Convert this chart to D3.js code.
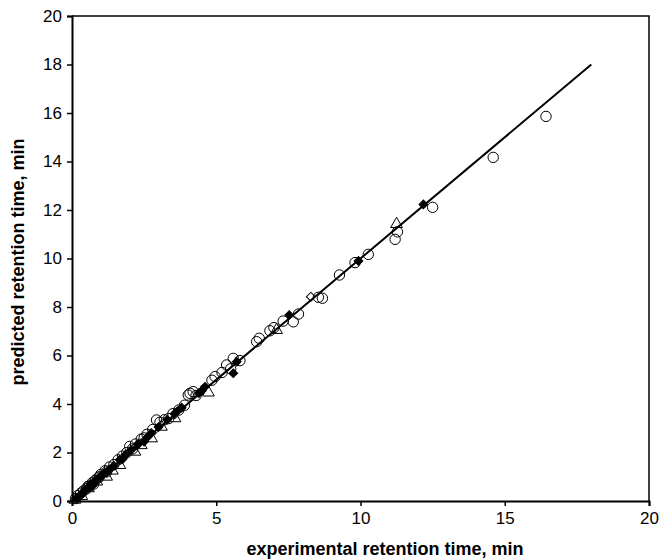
<!DOCTYPE html>
<html><head><meta charset="utf-8">
<script src="https://cdn.jsdelivr.net/npm/d3@7"></script>
<style>body{margin:0;background:#fff;} svg{display:block;}</style>
</head><body>
<svg id="c" width="659" height="560"></svg>
<script>
const xTicks = [0, 5, 10, 15, 20];
const yTicks = [0, 2, 4, 6, 8, 10, 12, 14, 16, 18, 20];
const fitLine = [[0, 0], [18, 18]];
const circles = [[16.43,15.86],[14.6,14.17],[12.5,12.11],[11.28,11.1],[11.2,10.79],[10.27,10.17],[9.81,9.83],[9.27,9.32],[8.54,8.4],[8.68,8.36],[7.85,7.71],[7.67,7.39],[7.32,7.42],[6.86,7.02],[7.0,7.15],[6.49,6.71],[6.4,6.57],[5.59,5.88],[5.82,5.79],[5.36,5.61],[5.5,5.45],[5.2,5.3],[4.96,5.13],[4.85,4.98],[4.2,4.51],[4.09,4.44],[4.03,4.37],[4.3,4.35],[3.9,3.95],[3.7,3.75],[3.5,3.6],[3.2,3.35],[2.93,3.34],[3.05,3.25],[2.8,2.95],[2.6,2.75],[2.4,2.55],[2.2,2.35],[2.0,2.25],[2.1,2.15],[1.9,2.0],[1.75,1.85],[1.6,1.7],[1.45,1.5],[1.3,1.4],[1.15,1.25],[1.0,1.1],[0.9,0.95],[0.8,0.85],[0.7,0.75],[0.6,0.62],[0.5,0.5],[0.4,0.42],[0.3,0.32],[0.2,0.22],[0.12,0.1],[3.35,3.4],[2.5,2.6],[1.2,1.2],[0.95,1.0],[0.75,0.7],[0.55,0.6]];
const filledDiamonds = [[12.18,12.23],[9.93,9.9],[7.53,7.67],[5.71,5.74],[5.59,5.27],[4.61,4.71],[4.4,4.45],[4.5,4.55],[3.8,3.85],[3.55,3.6],[3.3,3.35],[3.0,3.05],[2.75,2.8],[2.5,2.45],[2.3,2.35],[2.05,2.1],[1.85,1.9],[1.65,1.7],[1.45,1.45],[1.3,1.3],[1.1,1.12],[0.95,0.98],[0.8,0.8],[0.65,0.7],[0.55,0.55],[0.45,0.45],[0.35,0.3],[0.25,0.2],[0.15,0.1],[3.65,3.7],[2.6,2.62],[1.75,1.72],[1.2,1.18],[0.7,0.62]];
const triangles = [[11.25,11.42],[7.09,7.05],[4.73,4.47],[3.57,3.41],[3.1,3.06],[2.76,2.58],[2.4,2.3],[2.18,2.03],[1.66,1.48],[1.4,1.25],[1.2,1.0],[0.86,0.8],[0.57,0.52],[0.34,0.2],[0.1,0.05]];
const openDiamonds = [[8.28,8.42],[2.25,2.3]];

const svg = d3.select("#c");
const L = 72, R = 649, T = 16, B = 501;
const x = d3.scaleLinear().domain([0, 20]).range([L, R]);
const y = d3.scaleLinear().domain([0, 20]).range([B, T]);
const font = "Liberation Sans, Arial, sans-serif";

svg.append("path").attr("d", `M${L},${T}H${R}V${B}`).attr("fill","none").attr("stroke","#000").attr("stroke-width",1.5);

const gx = svg.append("g").attr("transform", `translate(0,${B})`)
  .call(d3.axisBottom(x).tickValues(xTicks).tickSize(5).tickPadding(6).tickFormat(d3.format("d")));
const gy = svg.append("g").attr("transform", `translate(${L},0)`)
  .call(d3.axisLeft(y).tickValues(yTicks).tickSize(5).tickPadding(5).tickFormat(d3.format("d")));
[gx, gy].forEach(g => {
  g.select(".domain").attr("stroke-width", 2);
  g.selectAll(".tick line").attr("stroke-width", 1.5);
  g.selectAll("text").attr("font-family", font).attr("font-size", 17).attr("fill","#000");
});

svg.append("line")
  .attr("x1", x(fitLine[0][0])).attr("y1", y(fitLine[0][1]))
  .attr("x2", x(fitLine[1][0])).attr("y2", y(fitLine[1][1]))
  .attr("stroke", "#000").attr("stroke-width", 2);

function plot(data, type, size, fill, rot) {
  svg.append("g").selectAll("path").data(data).join("path")
    .attr("transform", d => `translate(${x(d[0])},${y(d[1])}) rotate(${rot || 0})`)
    .attr("d", d3.symbol().type(type).size(size)())
    .attr("fill", fill).attr("stroke", "#000").attr("stroke-width", 1);
}
plot(circles, d3.symbolCircle, 85, "none");
plot(triangles, d3.symbolTriangle, 60, "none");
plot(openDiamonds, d3.symbolSquare, 40, "none", 45);
plot(filledDiamonds, d3.symbolSquare, 38, "#000", 45);

svg.append("text").attr("x", 385).attr("y", 555).attr("text-anchor","middle")
  .attr("font-family", font).attr("font-size", 18).attr("font-weight","bold")
  .text("experimental retention time, min");
svg.append("text").attr("transform", "translate(24,262) rotate(-90)").attr("text-anchor","middle")
  .attr("font-family", font).attr("font-size", 18).attr("font-weight","bold")
  .text("predicted retention time, min");
</script>
</body></html>
